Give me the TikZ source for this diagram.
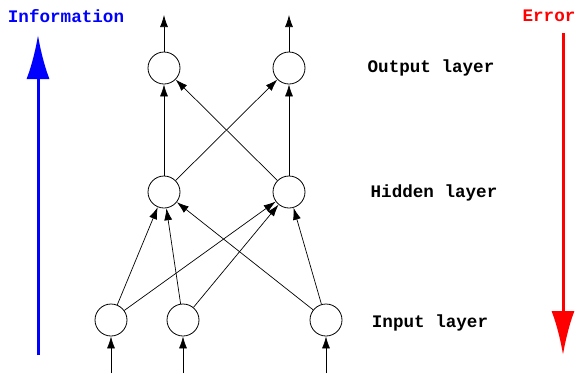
\documentclass[tikz,border=0pt]{standalone}
\usepackage{fontspec}
\setmonofont{Liberation Mono}
\usetikzlibrary{arrows.meta}

\tikzset{
  neuron/.style={draw, circle, line width=0.8pt, minimum size=32pt, inner sep=0pt},
  link/.style={line width=0.7pt, -{Latex[length=12pt, width=8pt]}},
  layerlabel/.style={font=\ttfamily\bfseries\fontsize{17.6}{20}\selectfont},
  flow/.style={line width=3pt, -{Latex[length=44pt, width=23pt]}}
}

\begin{document}
\begin{tikzpicture}[x=1pt, y=-1pt]
    \useasboundingbox (0,0) rectangle (579,373);

    % Neurons
    \node[neuron] (o1) at (164,68) {};
    \node[neuron] (o2) at (289,68) {};
    \node[neuron] (h1) at (164,192) {};
    \node[neuron] (h2) at (289,192) {};
    \node[neuron] (i1) at (111,320) {};
    \node[neuron] (i2) at (183,320) {};
    \node[neuron] (i3) at (326,320) {};

    % Free ends of the outer arrows
    \coordinate (out1) at (164,15);
    \coordinate (out2) at (289,15);
    \coordinate (in1) at (111,373);
    \coordinate (in2) at (183,373);
    \coordinate (in3) at (326,373);

    % Connections
    \foreach \h in {h1,h2}
        \foreach \o in {o1,o2}
            \draw[link] (\h) -- (\o);
    \foreach \i in {i1,i2,i3}
        \foreach \h in {h1,h2}
            \draw[link] (\i) -- (\h);
    \draw[link] (o1) -- (out1);
    \draw[link] (o2) -- (out2);
    \foreach \i in {1,2,3}
        \draw[link] (in\i) -- (i\i);

    % Layer labels
    \node[layerlabel] (lo) at (431,68) {Output layer};
    \node[layerlabel] (lh) at (434,193) {Hidden layer};
    \node[layerlabel] (li) at (430,323) {Input layer};

    % Information and error flow
    \node[layerlabel, text=blue] (info) at (66,16) {Information};
    \node[layerlabel, text=red] (err) at (549,16) {Error};
    \coordinate (infobot) at (38,355);
    \coordinate (infotop) at (38,35);
    \coordinate (errtop) at (563,33);
    \coordinate (errbot) at (563,355);
    \draw[flow, blue] (infobot) -- (infotop);
    \draw[flow, red] (errtop) -- (errbot);
\end{tikzpicture}
\end{document}
